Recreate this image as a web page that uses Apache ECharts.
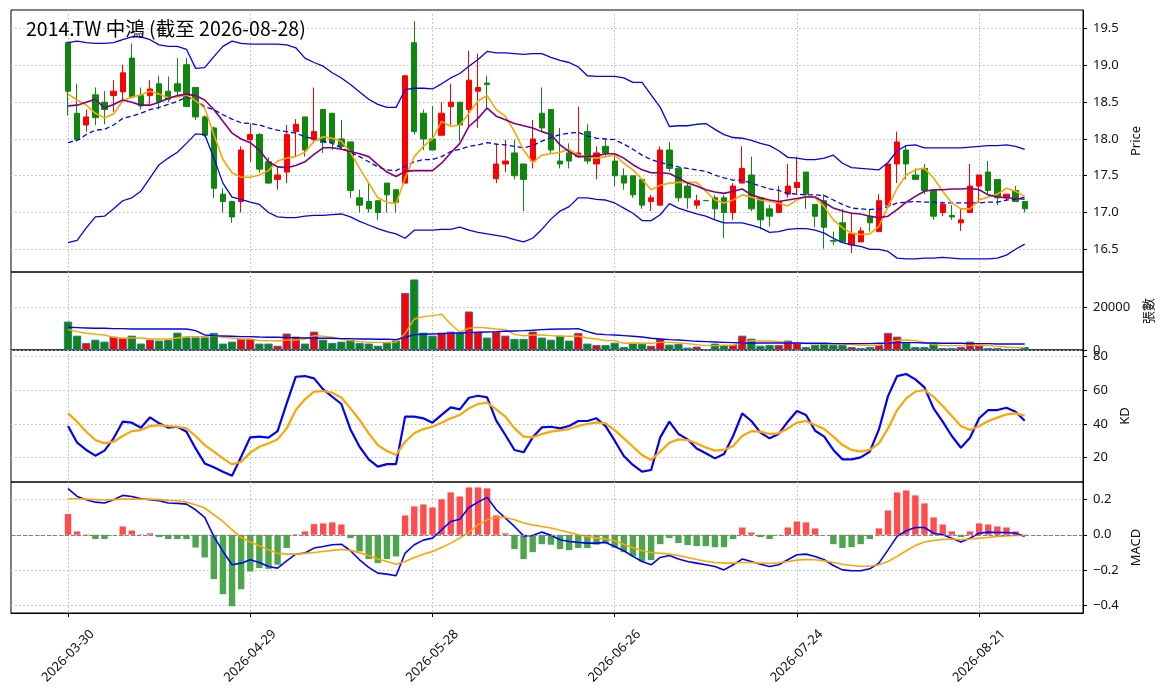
<!DOCTYPE html>
<html>
<head>
<meta charset="utf-8">
<title>2014.TW 中鴻</title>
<script src="https://cdn.jsdelivr.net/npm/echarts@6/dist/echarts.min.js"></script>
<style>
  html, body { margin: 0; padding: 0; background: #fff; }
  #chart { width: 1164px; height: 698px; }
</style>
</head>
<body>
<div id="chart"></div>
<script>
// trading days shown on the x axis (index = position)
const dates = [
  '2026-03-30','2026-03-31','2026-04-01','2026-04-02','2026-04-07','2026-04-08','2026-04-09','2026-04-10',
  '2026-04-13','2026-04-14','2026-04-15','2026-04-16','2026-04-17','2026-04-20','2026-04-21','2026-04-22',
  '2026-04-23','2026-04-24','2026-04-27','2026-04-28','2026-04-29','2026-04-30','2026-05-04','2026-05-05',
  '2026-05-06','2026-05-07','2026-05-08','2026-05-11','2026-05-12','2026-05-13','2026-05-14','2026-05-15',
  '2026-05-18','2026-05-19','2026-05-20','2026-05-21','2026-05-22','2026-05-25','2026-05-26','2026-05-27',
  '2026-05-28','2026-05-29','2026-06-01','2026-06-02','2026-06-03','2026-06-04','2026-06-05','2026-06-08',
  '2026-06-09','2026-06-10','2026-06-11','2026-06-12','2026-06-15','2026-06-16','2026-06-17','2026-06-18',
  '2026-06-22','2026-06-23','2026-06-24','2026-06-25','2026-06-26','2026-06-29','2026-06-30','2026-07-01',
  '2026-07-02','2026-07-03','2026-07-06','2026-07-07','2026-07-08','2026-07-09','2026-07-10','2026-07-13',
  '2026-07-14','2026-07-15','2026-07-16','2026-07-17','2026-07-20','2026-07-21','2026-07-22','2026-07-23',
  '2026-07-24','2026-07-27','2026-07-28','2026-07-29','2026-07-30','2026-07-31','2026-08-03','2026-08-04',
  '2026-08-05','2026-08-06','2026-08-07','2026-08-10','2026-08-11','2026-08-12','2026-08-13','2026-08-14',
  '2026-08-17','2026-08-18','2026-08-19','2026-08-20','2026-08-21','2026-08-24','2026-08-25','2026-08-26',
  '2026-08-27','2026-08-28'
];

const opens = [
  19.31, 18.35, 18.19, 18.60, 18.50, 18.59, 18.64, 19.10, 18.59, 18.59,
  18.75, 18.65, 18.75, 19.01, 18.70, 18.30, 18.15, 17.25, 17.15, 17.15,
  17.99, 18.06, 17.69, 17.45, 17.55, 18.10, 18.30, 17.99, 18.40, 18.35,
  18.00, 17.96, 17.20, 17.15, 17.16, 17.40, 17.31, 17.40, 19.31, 18.35,
  18.00, 18.05, 18.44, 18.50, 18.40, 18.65, 18.76, 17.46, 17.66, 17.81,
  17.66, 17.70, 18.35, 18.40, 17.70, 17.81, 17.76, 18.10, 17.66, 17.90,
  17.70, 17.50, 17.50, 17.45, 17.15, 17.10, 17.85, 17.60, 17.36, 17.10,
  17.165, 17.20, 17.20, 17.00, 17.40, 17.51, 17.20, 17.05, 17.00, 17.25,
  17.34, 17.55, 17.11, 17.16, 16.62, 16.86, 16.56, 16.60, 16.95, 16.74,
  17.10, 17.66, 17.85, 17.51, 17.60, 17.30, 17.00, 16.96, 16.86, 17.00,
  17.36, 17.55, 17.45, 17.20, 17.30, 17.15
];
const closes = [
  18.65, 17.99, 18.30, 18.29, 18.40, 18.65, 18.90, 18.57, 18.45, 18.68,
  18.51, 18.54, 18.65, 18.44, 18.30, 18.05, 17.33, 17.15, 16.94, 17.85,
  18.06, 17.59, 17.40, 17.51, 18.06, 18.20, 17.85, 18.10, 17.95, 17.95,
  17.90, 17.30, 17.10, 17.05, 17.00, 17.24, 17.14, 18.86, 18.10, 18.00,
  17.85, 18.35, 18.50, 18.19, 18.80, 18.70, 18.74, 17.66, 17.70, 17.50,
  17.45, 18.00, 18.15, 17.85, 17.66, 17.70, 17.81, 17.70, 17.81, 17.81,
  17.50, 17.40, 17.24, 17.10, 17.20, 17.85, 17.60, 17.20, 17.20, 17.16,
  17.16, 17.05, 17.00, 17.36, 17.60, 17.05, 16.90, 16.95, 17.15, 17.36,
  17.41, 17.25, 16.95, 16.80, 16.61, 16.60, 16.71, 16.75, 16.86, 17.16,
  17.66, 17.96, 17.66, 17.45, 17.30, 16.95, 17.11, 16.94, 16.90, 17.36,
  17.51, 17.30, 17.20, 17.25, 17.15, 17.05
];
const lows = [
  18.32, 17.97, 18.10, 18.19, 18.20, 18.37, 18.53, 18.55, 18.40, 18.46,
  18.40, 18.50, 18.57, 18.44, 18.26, 18.03, 17.20, 17.00, 16.86, 17.00,
  17.69, 17.54, 17.39, 17.31, 17.40, 17.76, 17.76, 17.94, 17.81, 17.85,
  17.85, 17.20, 17.00, 17.00, 16.90, 17.00, 17.00, 17.40, 18.06, 17.85,
  17.85, 18.05, 18.19, 17.97, 18.15, 18.15, 18.40, 17.40, 17.55, 17.45,
  17.02, 17.60, 18.10, 17.81, 17.60, 17.60, 17.74, 17.66, 17.45, 17.76,
  17.36, 17.31, 17.20, 17.05, 17.02, 17.10, 17.56, 17.15, 17.05, 17.05,
  17.155, 16.90, 16.65, 16.90, 17.40, 17.02, 16.77, 16.81, 17.00, 17.20,
  17.25, 17.05, 16.80, 16.51, 16.56, 16.60, 16.45, 16.60, 16.74, 16.74,
  17.10, 17.40, 17.45, 17.45, 17.25, 16.90, 16.95, 16.90, 16.75, 17.00,
  17.13, 17.25, 17.10, 17.16, 17.15, 17.00
];
const highs = [
  19.33, 18.75, 18.40, 18.70, 18.65, 18.80, 19.01, 19.30, 18.70, 18.80,
  18.86, 18.85, 19.10, 19.10, 18.70, 18.32, 18.17, 17.33, 17.16, 17.90,
  18.21, 18.08, 17.75, 17.63, 18.19, 18.27, 18.30, 18.70, 18.41, 18.35,
  18.26, 17.96, 17.31, 17.40, 17.16, 17.40, 17.31, 18.86, 19.60, 18.40,
  18.45, 18.50, 18.75, 18.50, 19.20, 19.16, 18.86, 17.94, 17.99, 17.99,
  17.66, 18.26, 18.70, 18.40, 18.15, 17.94, 18.44, 18.20, 17.90, 18.00,
  17.81, 17.60, 17.50, 17.45, 17.24, 17.90, 17.96, 17.60, 17.40, 17.24,
  17.17, 17.24, 17.24, 17.40, 17.90, 17.76, 17.20, 17.10, 17.36, 17.66,
  17.76, 17.55, 17.11, 17.25, 16.74, 17.05, 17.00, 16.80, 17.05, 17.25,
  17.66, 18.10, 17.91, 17.60, 17.66, 17.30, 17.15, 17.10, 17.05, 17.66,
  17.51, 17.70, 17.45, 17.25, 17.36, 17.15
];

const bbUpper = [
  19.31, 19.33, 19.31, 19.30, 19.30, 19.31, 19.35, 19.39, 19.39, 19.35,
  19.28, 19.26, 19.26, 19.22, 18.96, 18.97, 19.12, 19.26, 19.33, 19.30,
  19.29, 19.29, 19.29, 19.29, 19.28, 19.24, 19.10, 19.04, 18.99, 18.90,
  18.83, 18.74, 18.64, 18.54, 18.47, 18.43, 18.43, 18.67, 18.69, 18.69,
  18.68, 18.75, 18.83, 18.89, 18.99, 19.08, 19.19, 19.17, 19.17, 19.16,
  19.15, 19.16, 19.16, 19.11, 19.07, 19.04, 18.98, 18.86, 18.85, 18.85,
  18.85, 18.83, 18.77, 18.77, 18.60, 18.43, 18.17, 18.18, 18.18, 18.20,
  18.21, 18.13, 18.06, 18.02, 18.01, 17.98, 17.94, 17.91, 17.84, 17.75,
  17.74, 17.72, 17.72, 17.74, 17.78, 17.67, 17.61, 17.60, 17.59, 17.58,
  17.68, 17.84, 17.91, 17.92, 17.88, 17.88, 17.88, 17.88, 17.88, 17.89,
  17.90, 17.91, 17.91, 17.92, 17.90, 17.86
];
const bbMid = [
  17.95, 17.98, 18.06, 18.12, 18.13, 18.19, 18.28, 18.31, 18.35, 18.40,
  18.43, 18.47, 18.51, 18.57, 18.53, 18.44, 18.40, 18.33, 18.27, 18.22,
  18.21, 18.19, 18.15, 18.12, 18.10, 18.08, 18.03, 18.00, 17.97, 17.94,
  17.88, 17.82, 17.76, 17.69, 17.62, 17.58, 17.57, 17.63, 17.69, 17.72,
  17.72, 17.76, 17.83, 17.86, 17.90, 17.92, 17.95, 17.93, 17.92, 17.90,
  17.88, 17.91, 17.97, 18.02, 18.06, 18.08, 18.09, 18.04, 18.01, 18.00,
  17.99, 17.93, 17.86, 17.78, 17.72, 17.68, 17.65, 17.62, 17.60, 17.58,
  17.56, 17.51, 17.47, 17.44, 17.44, 17.40, 17.36, 17.32, 17.30, 17.26,
  17.25, 17.24, 17.24, 17.23, 17.17, 17.11, 17.06, 17.05, 17.04, 17.05,
  17.08, 17.13, 17.14, 17.15, 17.14, 17.14, 17.13, 17.13, 17.13, 17.13,
  17.13, 17.14, 17.14, 17.17, 17.18, 17.21
];
const bbLower = [
  16.59, 16.62, 16.79, 16.94, 16.95, 17.05, 17.16, 17.20, 17.29, 17.47,
  17.65, 17.74, 17.82, 17.94, 18.07, 18.06, 17.74, 17.40, 17.21, 17.18,
  17.14, 17.11, 17.00, 16.94, 16.93, 16.93, 16.95, 16.96, 16.96, 16.97,
  16.98, 16.94, 16.88, 16.83, 16.78, 16.74, 16.71, 16.65, 16.76, 16.76,
  16.76, 16.77, 16.77, 16.80, 16.76, 16.73, 16.71, 16.69, 16.67, 16.63,
  16.60, 16.65, 16.77, 16.91, 17.02, 17.08, 17.20, 17.20, 17.18, 17.17,
  17.13, 17.06, 16.99, 16.89, 16.89, 16.97, 17.12, 17.06, 17.02, 16.98,
  16.95, 16.90, 16.86, 16.86, 16.86, 16.83, 16.79, 16.73, 16.74, 16.77,
  16.78, 16.78, 16.76, 16.72, 16.65, 16.59, 16.56, 16.54, 16.50, 16.50,
  16.47, 16.38, 16.37, 16.37, 16.38, 16.38, 16.39, 16.38, 16.37, 16.37,
  16.37, 16.37, 16.38, 16.42, 16.50, 16.57
];
const ma5 = [
  18.61, 18.53, 18.46, 18.35, 18.29, 18.34, 18.52, 18.57, 18.60, 18.65,
  18.61, 18.56, 18.57, 18.60, 18.52, 18.42, 18.06, 17.72, 17.54, 17.48,
  17.48, 17.51, 17.57, 17.70, 17.74, 17.76, 17.82, 17.97, 18.03, 18.01,
  17.97, 17.82, 17.60, 17.40, 17.20, 17.14, 17.12, 17.47, 17.76, 17.90,
  18.00, 18.24, 18.17, 18.19, 18.35, 18.52, 18.59, 18.40, 18.31, 18.10,
  17.85, 17.68, 17.78, 17.80, 17.82, 17.86, 17.78, 17.76, 17.74, 17.76,
  17.78, 17.67, 17.58, 17.45, 17.31, 17.37, 17.40, 17.41, 17.41, 17.41,
  17.29, 17.17, 17.13, 17.17, 17.24, 17.21, 17.17, 17.15, 17.13, 17.09,
  17.17, 17.22, 17.20, 17.08, 16.90, 16.79, 16.72, 16.70, 16.71, 16.81,
  17.08, 17.33, 17.51, 17.58, 17.60, 17.47, 17.29, 17.13, 17.05, 17.05,
  17.17, 17.21, 17.25, 17.33, 17.29, 17.22
];
const ma10 = [
  18.45, 18.46, 18.50, 18.54, 18.42, 18.47, 18.53, 18.50, 18.46, 18.46,
  18.50, 18.55, 18.59, 18.61, 18.59, 18.53, 18.40, 18.24, 18.08, 18.00,
  17.95, 17.85, 17.69, 17.62, 17.61, 17.64, 17.69, 17.79, 17.88, 17.88,
  17.86, 17.83, 17.80, 17.76, 17.65, 17.55, 17.49, 17.56, 17.57, 17.57,
  17.57, 17.67, 17.81, 17.94, 18.17, 18.28, 18.42, 18.31, 18.26, 18.21,
  18.18, 18.15, 18.10, 18.06, 17.92, 17.83, 17.76, 17.76, 17.77, 17.80,
  17.80, 17.74, 17.65, 17.58, 17.54, 17.54, 17.53, 17.47, 17.40, 17.36,
  17.31, 17.28, 17.26, 17.29, 17.32, 17.24, 17.20, 17.17, 17.15, 17.17,
  17.19, 17.21, 17.21, 17.14, 17.06, 17.02, 16.99, 16.98, 16.95, 16.93,
  16.95, 17.04, 17.14, 17.22, 17.29, 17.31, 17.31, 17.32, 17.32, 17.33,
  17.31, 17.24, 17.21, 17.20, 17.19, 17.18
];

// volume (張數)
const volumes = [
  13300, 6700, 3300, 4800, 3900, 6250, 5600, 6700, 3000, 4800,
  4400, 4800, 8100, 5900, 5900, 5900, 8000, 3000, 3900, 5200,
  5200, 3000, 3000, 2000, 7700, 6250, 3000, 8600, 4800, 3300,
  3900, 4800, 3300, 3000, 2000, 3300, 4400, 26700, 33000, 8100,
  6700, 8100, 8600, 8100, 18000, 8600, 5800, 8600, 6700, 5200,
  5200, 8600, 5800, 4800, 6700, 4400, 8000, 3000, 2300, 2300,
  3400, 1400, 3300, 2800, 2000, 5200, 2500, 2800, 1100, 1600,
  300, 3000, 2300, 2300, 6700, 5300, 2000, 2300, 2300, 4400,
  3300, 1400, 2300, 3300, 2300, 2300, 1400, 900, 1400, 2300,
  8000, 6250, 3300, 1400, 1400, 3300, 900, 900, 1400, 3900,
  2000, 900, 900, 500, 500, 1400
];
const volMa5 = [
  9530, 8590, 7810, 7340, 7030, 5940, 5470, 5630, 5630, 5160,
  5160, 5160, 5630, 6250, 6250, 6250, 6720, 5940, 5630, 5160,
  5160, 4380, 4380, 4220, 4690, 4690, 5160, 6720, 6410, 5940,
  5160, 4380, 3910, 3590, 3590, 3590, 3590, 7800, 14500, 15600,
  16100, 16700, 12200, 8300, 10200, 10600, 10300, 9800, 9500, 7300,
  6700, 7000, 7030, 6720, 6560, 6410, 6410, 5630, 5160, 4380,
  4380, 3130, 3280, 3130, 3130, 3590, 3590, 3280, 2970, 2500,
  2030, 2030, 2190, 2340, 3280, 4380, 4220, 4220, 3910, 3590,
  3130, 2970, 2810, 2810, 2810, 2810, 2500, 2190, 2030, 2340,
  3440, 4530, 4690, 4380, 3590, 2500, 2030, 2030, 2030, 2190,
  2340, 2030, 1720, 1410, 1090, 1090
];
const volMa20 = [
  10630, 10470, 10310, 10160, 10160, 10000, 10000, 9840, 9840, 9840,
  9840, 9840, 9840, 9840, 9060, 7030, 6720, 6560, 6410, 6250,
  6250, 6090, 5940, 5940, 5780, 5780, 5630, 5630, 5470, 5470,
  5310, 5310, 5160, 5160, 5000, 5000, 4840, 5940, 7190, 7340,
  7500, 7660, 7810, 7970, 8130, 8280, 8440, 8590, 8750, 8910,
  9060, 9220, 9530, 9690, 9840, 9840, 10000, 8590, 7500, 7190,
  7030, 6720, 6410, 6090, 5470, 5160, 4840, 4690, 4380, 4060,
  3910, 3750, 3590, 3440, 3280, 3280, 3280, 3280, 3280, 3280,
  3280, 3130, 3130, 3130, 2970, 2970, 2970, 2970, 2970, 3130,
  3280, 3440, 3440, 3440, 3280, 3280, 3130, 3130, 3130, 2970,
  2970, 2970, 2810, 2810, 2810, 2810
];

// KD
const kValues = [
  38.8, 28.9, 24.6, 21.2, 24.2, 31.5, 41.4, 40.8, 37.8, 44.0,
  40.4, 37.8, 38.4, 35.4, 25.5, 16.6, 14.3, 11.7, 9.3, 20.6,
  32.1, 32.5, 31.9, 35.8, 52.3, 68.1, 68.5, 67.1, 60.6, 56.2,
  51.9, 36.8, 26.5, 19.0, 14.7, 16.2, 16.2, 44.4, 44.4, 43.4,
  40.8, 45.4, 49.9, 48.7, 55.6, 56.8, 55.8, 42.0, 33.5, 24.6,
  23.2, 32.1, 38.0, 38.4, 37.4, 38.8, 41.8, 41.8, 43.4, 38.8,
  30.1, 21.0, 15.7, 11.7, 12.7, 32.1, 41.4, 34.1, 30.9, 25.5,
  22.6, 19.6, 22.2, 32.9, 46.3, 41.8, 34.9, 31.5, 34.1, 41.4,
  47.7, 45.4, 36.0, 32.5, 24.6, 19.0, 19.0, 20.2, 23.6, 36.8,
  56.6, 68.5, 69.7, 66.5, 61.8, 49.3, 41.4, 32.9, 25.9, 31.9,
  43.4, 48.3, 48.3, 49.7, 47.3, 42.0
];
const dValues = [
  46.3, 41.4, 35.4, 30.5, 28.5, 29.5, 32.9, 35.8, 36.4, 38.8,
  39.4, 38.8, 38.4, 37.4, 32.9, 27.5, 23.6, 19.6, 16.0, 17.6,
  23.0, 26.5, 28.5, 30.9, 37.4, 48.3, 54.7, 59.2, 59.6, 58.6,
  55.8, 49.3, 42.4, 34.5, 27.5, 24.0, 21.6, 29.5, 34.5, 37.0,
  38.4, 40.8, 43.4, 45.4, 49.3, 51.9, 52.7, 48.7, 44.4, 37.4,
  32.5, 32.1, 34.0, 35.5, 36.2, 37.0, 38.8, 40.0, 41.0, 40.4,
  36.4, 31.5, 26.5, 21.6, 18.6, 23.6, 28.9, 30.9, 30.5, 28.5,
  26.1, 24.2, 24.6, 26.9, 32.9, 35.8, 35.5, 34.1, 34.5, 37.4,
  40.8, 41.8, 39.4, 37.0, 32.5, 27.5, 24.6, 23.6, 24.6, 28.5,
  37.4, 48.3, 55.2, 59.2, 60.2, 56.2, 50.7, 44.8, 38.8, 36.4,
  38.8, 41.8, 43.8, 45.7, 46.3, 45.0
];

// MACD
const difValues = [
  0.260, 0.216, 0.198, 0.184, 0.179, 0.198, 0.222, 0.216, 0.203, 0.198,
  0.192, 0.179, 0.177, 0.173, 0.141, 0.098, -0.009, -0.094, -0.169, -0.160,
  -0.141, -0.156, -0.179, -0.188, -0.147, -0.109, -0.103, -0.075, -0.066, -0.056,
  -0.053, -0.090, -0.141, -0.184, -0.216, -0.222, -0.231, -0.103, -0.056, -0.030,
  -0.019, 0.028, 0.075, 0.088, 0.154, 0.184, 0.211, 0.141, 0.094, 0.047,
  -0.006, -0.004, 0.015, -0.003, -0.028, -0.038, -0.043, -0.047, -0.047, -0.043,
  -0.066, -0.090, -0.122, -0.151, -0.169, -0.128, -0.117, -0.136, -0.151, -0.160,
  -0.169, -0.179, -0.198, -0.169, -0.137, -0.151, -0.166, -0.179, -0.169, -0.141,
  -0.113, -0.109, -0.122, -0.141, -0.173, -0.198, -0.203, -0.203, -0.192, -0.160,
  -0.085, -0.009, 0.023, 0.041, 0.041, 0.009, 0.000, -0.019, -0.041, -0.019,
  0.009, 0.015, 0.013, 0.013, 0.009, -0.009
];
const deaValues = [
  0.203, 0.203, 0.201, 0.198, 0.196, 0.198, 0.201, 0.201, 0.200, 0.201,
  0.198, 0.194, 0.192, 0.184, 0.169, 0.151, 0.113, 0.075, 0.028, -0.015,
  -0.041, -0.062, -0.085, -0.104, -0.109, -0.109, -0.105, -0.100, -0.094, -0.088,
  -0.083, -0.088, -0.102, -0.117, -0.136, -0.151, -0.166, -0.151, -0.128, -0.110,
  -0.094, -0.072, -0.047, -0.019, 0.015, 0.056, 0.085, 0.098, 0.098, 0.085,
  0.066, 0.056, 0.047, 0.038, 0.026, 0.013, 0.000, -0.009, -0.019, -0.024,
  -0.034, -0.053, -0.072, -0.090, -0.100, -0.104, -0.109, -0.117, -0.128, -0.139,
  -0.149, -0.156, -0.160, -0.160, -0.156, -0.156, -0.160, -0.162, -0.158, -0.151,
  -0.143, -0.139, -0.141, -0.147, -0.156, -0.166, -0.173, -0.177, -0.177, -0.169,
  -0.151, -0.122, -0.090, -0.060, -0.041, -0.032, -0.026, -0.024, -0.028, -0.024,
  -0.019, -0.015, -0.009, -0.006, -0.004, -0.004
];
const macdHist = [
  0.117, 0.019, 0.002, -0.024, -0.024, 0.000, 0.047, 0.024, 0.002, 0.008,
  -0.013, -0.024, -0.024, -0.024, -0.072, -0.128, -0.250, -0.335, -0.403, -0.307,
  -0.207, -0.188, -0.192, -0.169, -0.075, 0.003, 0.019, 0.060, 0.064, 0.070,
  0.058, -0.019, -0.094, -0.137, -0.160, -0.137, -0.122, 0.109, 0.160, 0.171,
  0.154, 0.200, 0.239, 0.216, 0.267, 0.267, 0.262, 0.109, 0.008, -0.081,
  -0.137, -0.098, -0.053, -0.056, -0.081, -0.087, -0.075, -0.075, -0.056, -0.047,
  -0.072, -0.098, -0.122, -0.151, -0.143, -0.053, -0.019, -0.047, -0.058, -0.064,
  -0.064, -0.070, -0.070, -0.024, 0.041, 0.013, -0.013, -0.024, -0.002, 0.041,
  0.075, 0.070, 0.036, 0.000, -0.053, -0.075, -0.070, -0.053, -0.024, 0.036,
  0.137, 0.239, 0.250, 0.222, 0.177, 0.098, 0.058, 0.019, -0.013, 0.019,
  0.064, 0.058, 0.047, 0.041, 0.019, -0.006
];

// tick positions
const xTicks = [0, 20, 40, 60, 80, 100];
const priceTicks = [16.5, 17.0, 17.5, 18.0, 18.5, 19.0, 19.5];
const volTicks = [0, 20000];
const kdTicks = [20, 40, 60, 80];
const macdTicks = [-0.4, -0.2, 0.0, 0.2];

const UP = '#ff0000', DOWN = '#0f870f';
const FONT = 'Noto Sans';
const X_MIN = -6.26, X_MAX = 111.4;

const pts = arr => arr.map((v, i) => [i, v]);
const gridLine = { show: true, lineStyle: { color: '#b8b8b8', width: 1, type: [1.5, 2.5] } };

function xAxisFor(gi, bottom) {
  return {
    type: 'value', gridIndex: gi, min: X_MIN, max: X_MAX,
    axisLine: { show: bottom, onZero: false, lineStyle: { color: '#000', width: 1 } },
    axisTick: { show: bottom, customValues: xTicks, length: 4, lineStyle: { color: '#000' } },
    axisLabel: bottom ? {
      show: true, customValues: xTicks, rotate: 45, align: 'center', verticalAlign: 'middle',
      margin: 43, fontFamily: FONT, fontSize: 13, color: '#111',
      formatter: v => dates[Math.round(v)] || ''
    } : { show: false, customValues: xTicks },
    splitLine: gridLine
  };
}

function yAxisFor(gi, min, max, ticks, fmt, name, gap, nameFont) {
  return {
    type: 'value', gridIndex: gi, position: 'right', min: min, max: max,
    name: name, nameLocation: 'middle', nameRotate: 90, nameGap: gap,
    nameTextStyle: { fontFamily: nameFont || FONT, fontSize: 13, color: '#111' },
    axisLine: { show: true, onZero: false, lineStyle: { color: '#000', width: 1 } },
    axisTick: { show: true, customValues: ticks, length: 4, lineStyle: { color: '#000' } },
    axisLabel: { show: true, customValues: ticks, margin: 10, fontFamily: FONT, fontSize: 13, color: '#111', formatter: fmt },
    splitLine: gridLine
  };
}

function line(xi, data, color, width, dashed) {
  return {
    type: 'line', xAxisIndex: xi, yAxisIndex: xi, data: pts(data),
    showSymbol: false, symbol: 'none', silent: true, z: 3,
    lineStyle: { color: color, width: width, type: dashed ? [5, 3] : 'solid' }
  };
}

const grids = [
  { top: 10, height: 262 },
  { top: 272, height: 78 },
  { top: 350, height: 132 },
  { top: 482, height: 131 }
].map(g => Object.assign({ left: 11, right: 81, show: true, borderColor: '#000', borderWidth: 1, backgroundColor: 'transparent' }, g));

const minusFmt = v => (v < -1e-9 ? '\u2212' : '') + Math.abs(v).toFixed(1);

const chart = echarts.init(document.getElementById('chart'), null, { renderer: 'canvas' });

chart.setOption({
  backgroundColor: '#fff',
  animation: false,
  title: {
    text: '2014.TW 中鴻 (截至 2026-08-28)', left: 26, top: 19, padding: 0,
    textStyle: { fontFamily: 'Noto Sans CJK TC', fontSize: 19.5, fontWeight: 'normal', color: '#000' }
  },
  grid: grids,
  xAxis: [xAxisFor(0, false), xAxisFor(1, false), xAxisFor(2, false), xAxisFor(3, true)],
  yAxis: [
    yAxisFor(0, 16.191, 19.754, priceTicks, v => v.toFixed(1), 'Price', 40),
    yAxisFor(1, 0, 36500, volTicks, v => String(v), '張數', 55, 'Noto Sans CJK TC'),
    yAxisFor(2, 5.56, 83.98, kdTicks, v => String(v), 'KD', 30),
    yAxisFor(3, -0.441, 0.2976, macdTicks, minusFmt, 'MACD', 38)
  ],
  series: [
    {
      type: 'candlestick', xAxisIndex: 0, yAxisIndex: 0, silent: true,
      data: closes.map((c, i) => [i, opens[i], c, lows[i], highs[i]]),
      encode: { x: 0, y: [1, 2, 3, 4] },
      barWidth: 5.8,
      itemStyle: { color: UP, color0: DOWN, borderColor: UP, borderColor0: DOWN, borderWidth: 1 }
    },
    line(0, bbUpper, '#0000ff', 1.3),
    line(0, bbMid, '#0000ff', 1.3, true),
    line(0, bbLower, '#0000ff', 1.3),
    line(0, ma5, '#ffa500', 1.6),
    line(0, ma10, '#800080', 1.6),
    {
      type: 'bar', xAxisIndex: 1, yAxisIndex: 1, silent: true, barWidth: 8.2,
      data: volumes.map((v, i) => ({
        value: [i, v],
        itemStyle: { color: closes[i] >= opens[i] ? UP : DOWN, borderColor: '#2a70a8', borderWidth: 0.9 }
      }))
    },
    line(1, volMa5, '#ffa500', 1.4),
    line(1, volMa20, '#0000ff', 1.4),
    line(2, kValues, '#0000ff', 2.2),
    line(2, dValues, '#ffa500', 2.2),
    {
      type: 'bar', xAxisIndex: 3, yAxisIndex: 3, silent: true, barWidth: 6.4,
      data: macdHist.map((v, i) => ({
        value: [i, v],
        itemStyle: { color: v >= 0 ? '#ff4d4d' : '#4ca64c' }
      })),
      markLine: {
        silent: true, symbol: 'none', label: { show: false },
        lineStyle: { color: '#808080', width: 1, type: [4, 2] },
        data: [{ yAxis: 0 }]
      }
    },
    line(3, difValues, '#0000ff', 1.6),
    line(3, deaValues, '#ffa500', 1.6)
  ]
});
</script>
</body>
</html>
